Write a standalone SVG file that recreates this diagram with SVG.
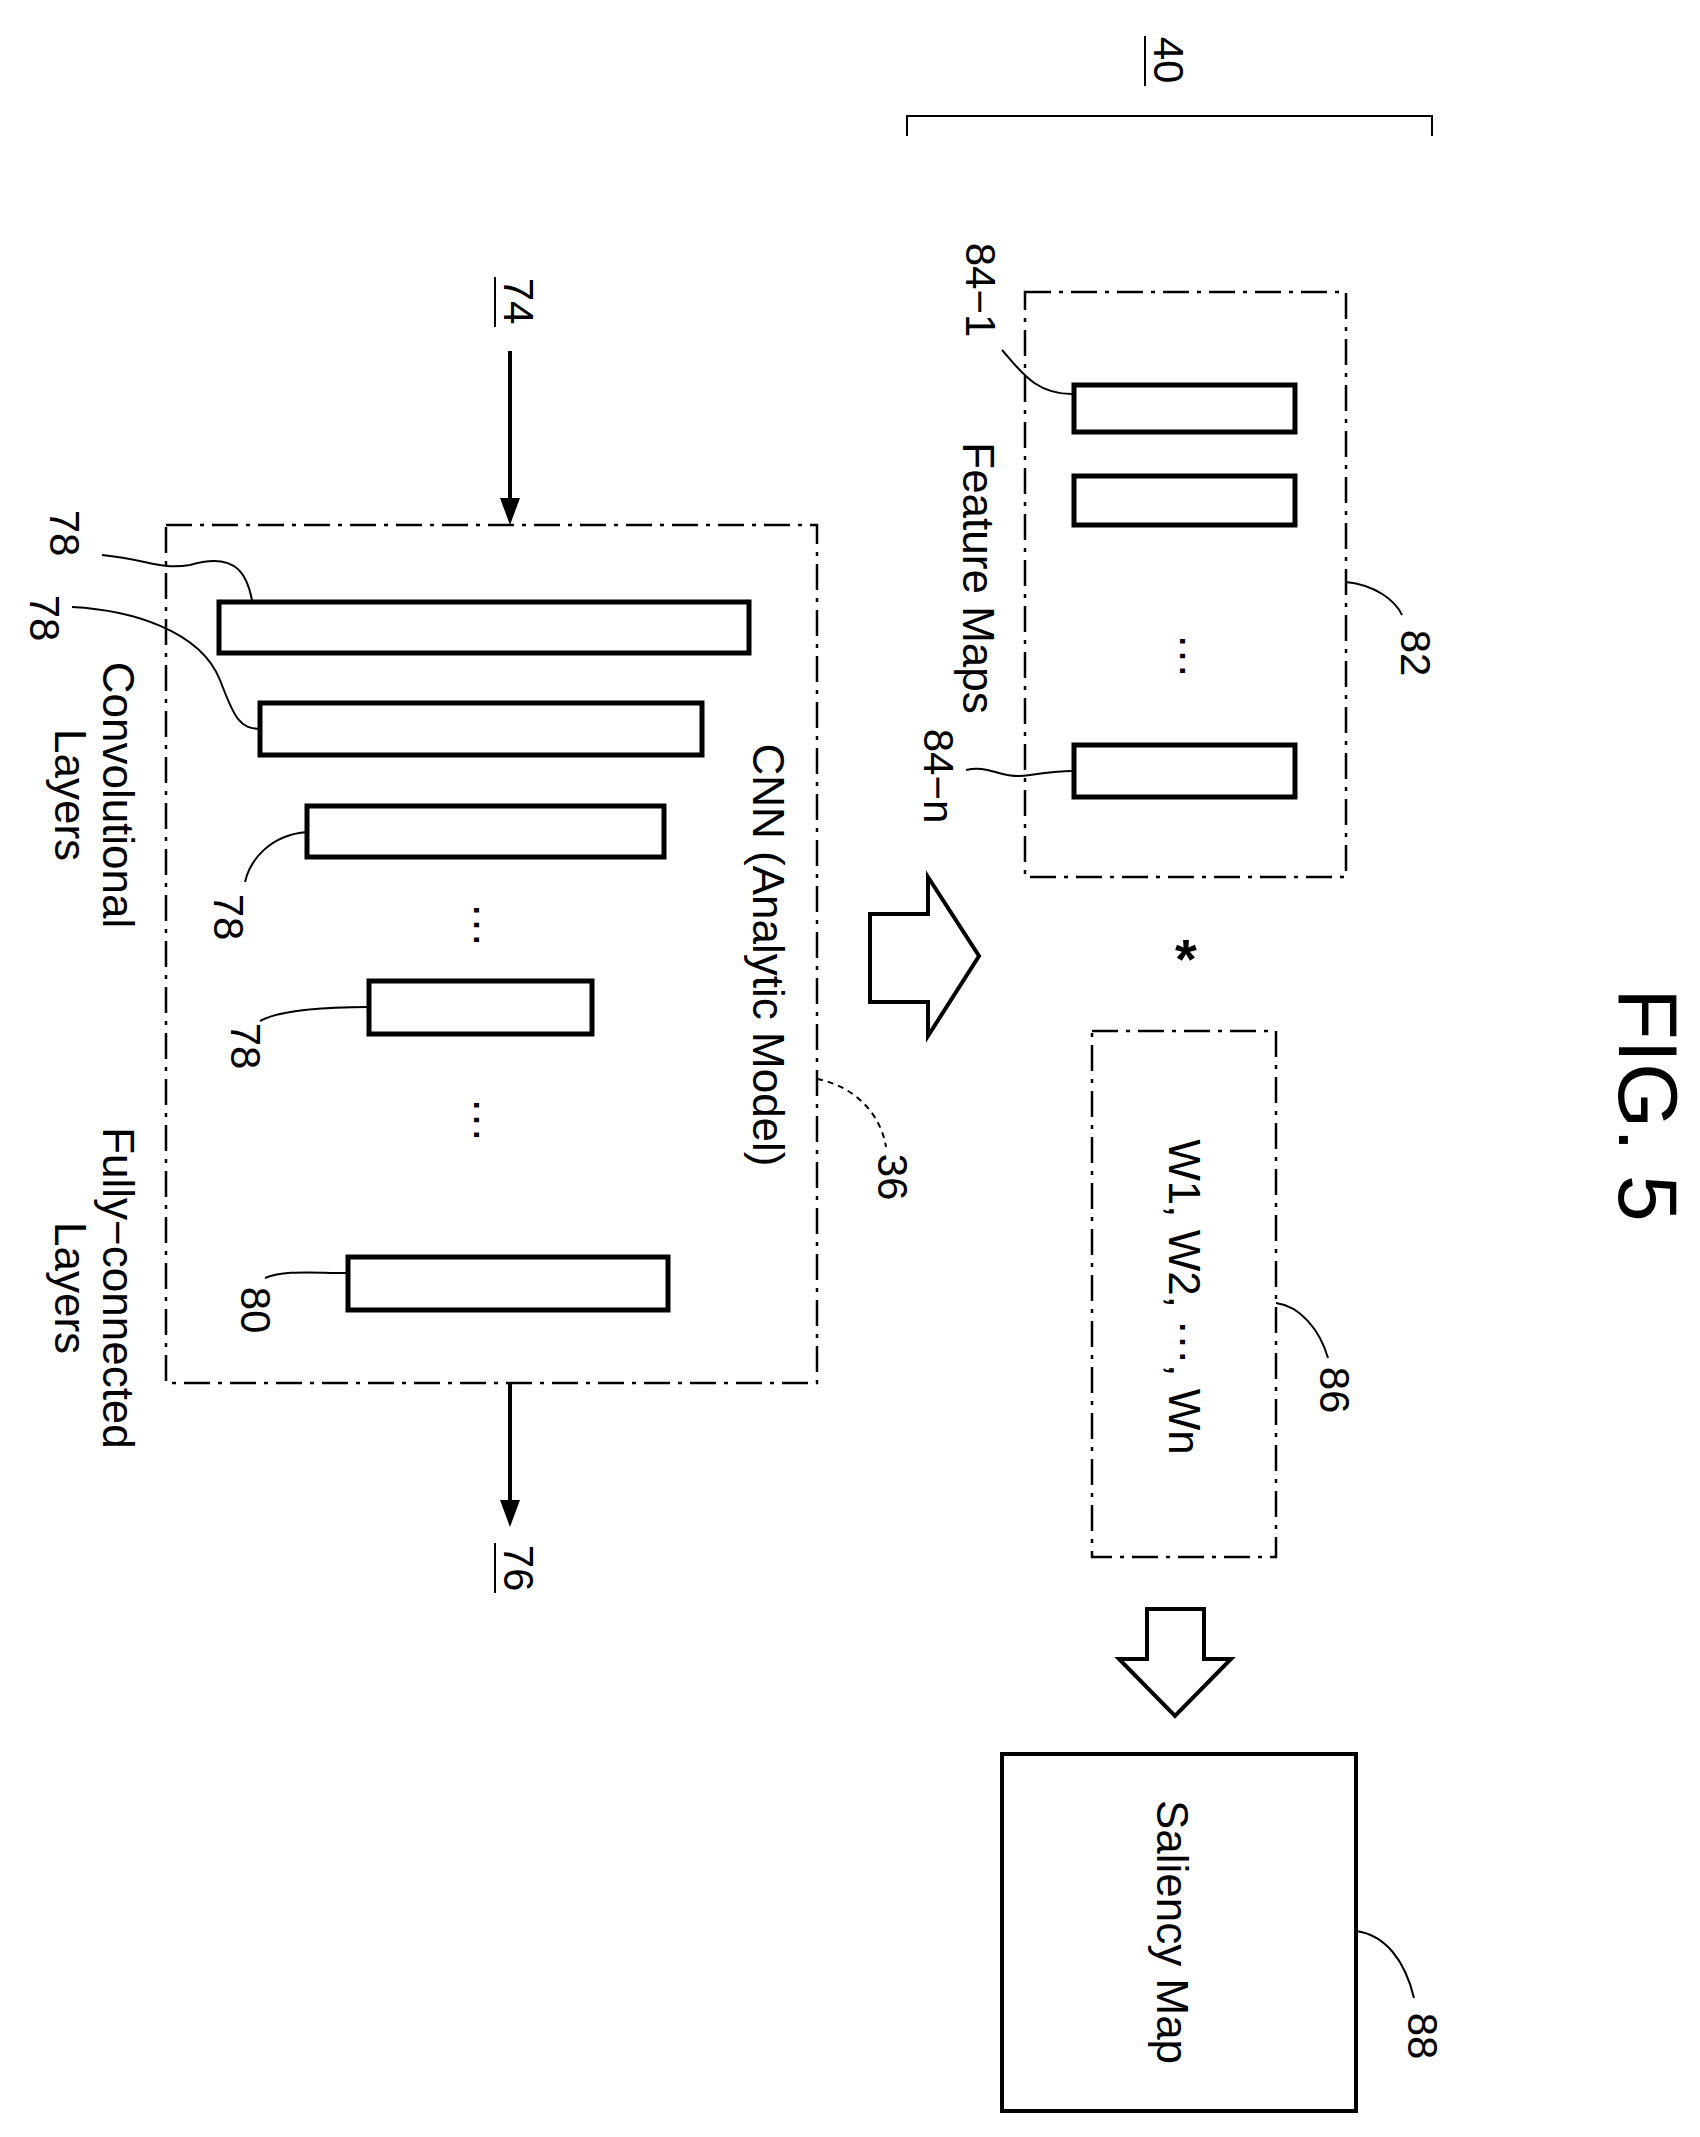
<svg xmlns="http://www.w3.org/2000/svg" width="1700" height="2137" viewBox="0 0 1700 2137">
<style>
text{font-family:"Liberation Sans",Arial,sans-serif;fill:#000;text-anchor:middle;dominant-baseline:central}
.t{font-size:44px}.l{font-size:42px}.f{font-size:84px}
.dd{fill:none;stroke:#000;stroke-width:2.5;stroke-dasharray:26 8 4 8}
.bar{fill:#fff;stroke:#000;stroke-width:5}
.ln{fill:none;stroke:#000;stroke-width:2}
.ar{fill:none;stroke:#000;stroke-width:4}
.hol{fill:#fff;stroke:#000;stroke-width:4}
</style>
<rect width="1700" height="2137" fill="#fff"/>
<g id="label40"><text class="l" transform="translate(1168,60) rotate(90)">40</text><line class="ln" x1="1145" y1="36" x2="1145" y2="86"/></g>
<g id="bracket40"><path class="ln" d="M907,136 V116 H1432 V136"/></g>
<g id="label74"><text class="l" transform="translate(518,301) rotate(90)">74</text><line class="ln" x1="495" y1="277" x2="495" y2="327"/></g>
<g id="label76"><text class="l" transform="translate(518,1568) rotate(90)">76</text><line class="ln" x1="495" y1="1543" x2="495" y2="1593"/></g>
<g id="cnn">
<rect class="dd" x="166" y="525" width="651" height="858"/>
<text class="t" transform="translate(768,955) rotate(90)">CNN (Analytic Model)</text>
<rect class="bar" x="219" y="602" width="530" height="51"/>
<rect class="bar" x="260" y="703" width="442" height="52"/>
<rect class="bar" x="307" y="806" width="357" height="51"/>
<text class="t" transform="translate(478,925) rotate(90)">⋯</text>
<rect class="bar" x="369" y="981" width="223" height="53"/>
<text class="t" transform="translate(478,1120) rotate(90)">⋯</text>
<rect class="bar" x="348" y="1257" width="320" height="53"/>
<text class="t" transform="translate(118,795) rotate(90)">Convolutional</text>
<text class="t" transform="translate(70,795) rotate(90)">Layers</text>
<text class="t" transform="translate(118,1288) rotate(90)">Fully−connected</text>
<text class="t" transform="translate(70,1288) rotate(90)">Layers</text>
<text class="l" transform="translate(64,533) rotate(90)">78</text>
<text class="l" transform="translate(44,618) rotate(90)">78</text>
<text class="l" transform="translate(228,917) rotate(90)">78</text>
<text class="l" transform="translate(245,1046) rotate(90)">78</text>
<text class="l" transform="translate(255,1310) rotate(90)">80</text>
<text class="l" transform="translate(892,1177) rotate(90)">36</text>
</g>
<g id="fm">
<rect class="dd" x="1025" y="292" width="321" height="585"/>
<rect class="bar" x="1074" y="385" width="221" height="47"/>
<rect class="bar" x="1074" y="476" width="221" height="49"/>
<text class="t" transform="translate(1184,656) rotate(90)">⋯</text>
<rect class="bar" x="1074" y="745" width="221" height="52"/>
<text class="t" transform="translate(978,578) rotate(90)">Feature Maps</text>
<text class="l" transform="translate(980,290) rotate(90)">84−1</text>
<text class="l" transform="translate(938,776) rotate(90)">84−n</text>
<text class="l" transform="translate(1415,653) rotate(90)">82</text>
</g>
<text x="1186" y="958" style="font-size:56px;font-weight:bold">*</text>
<g id="weights">
<rect class="dd" x="1092" y="1031" width="184" height="526"/>
<text class="t" transform="translate(1184,1297) rotate(90)">W1, W2, ⋯, Wn</text>
<text class="l" transform="translate(1334,1390) rotate(90)">86</text>
</g>
<g id="saliency">
<rect x="1002" y="1754" width="354" height="357" fill="#fff" stroke="#000" stroke-width="4"/>
<text class="t" transform="translate(1172,1932) rotate(90)">Saliency Map</text>
<text class="l" transform="translate(1422,2036) rotate(90)">88</text>
</g>
<g id="fig"><text class="f" transform="translate(1648,1105) rotate(90)">FIG. 5</text></g>
<g id="connectors">
<line class="ar" x1="510" y1="351" x2="510" y2="500"/><path d="M500,498 L510,525 L520,498 Z"/>
<line class="ar" x1="510" y1="1383" x2="510" y2="1502"/><path d="M500,1500 L510,1527 L520,1500 Z"/>
<path class="hol" d="M870,914 H928 V877 L979,956 L928,1036 V1002 H870 Z"/>
<path class="hol" d="M1147,1609 H1204 V1659 H1231 L1175,1716 L1119,1659 H1147 Z"/>
<path class="ln" d="M102,555 C150,560 160,570 190,565 C240,550 248,580 252,600"/>
<path class="ln" d="M72,607 C130,610 200,630 220,680 C235,720 240,728 260,729"/>
<path class="ln" d="M245,882 C250,860 270,835 307,832"/>
<path class="ln" d="M260,1021 C280,1010 320,1007 369,1007"/>
<path class="ln" d="M265,1278 C285,1270 310,1273 348,1273"/>
<path class="ln" d="M817,1079 C850,1085 880,1110 886,1147" stroke-dasharray="6 5"/>
<path class="ln" d="M1002,350 C1020,370 1035,395 1074,394"/>
<path class="ln" d="M966,770 C990,764 1000,780 1030,775 C1050,772 1060,771 1074,771"/>
<path class="ln" d="M1346,582 C1375,585 1395,600 1402,615"/>
<path class="ln" d="M1276,1303 C1300,1306 1320,1330 1328,1358"/>
<path class="ln" d="M1356,1931 C1385,1935 1405,1960 1414,1998"/>
</g>
</svg>
